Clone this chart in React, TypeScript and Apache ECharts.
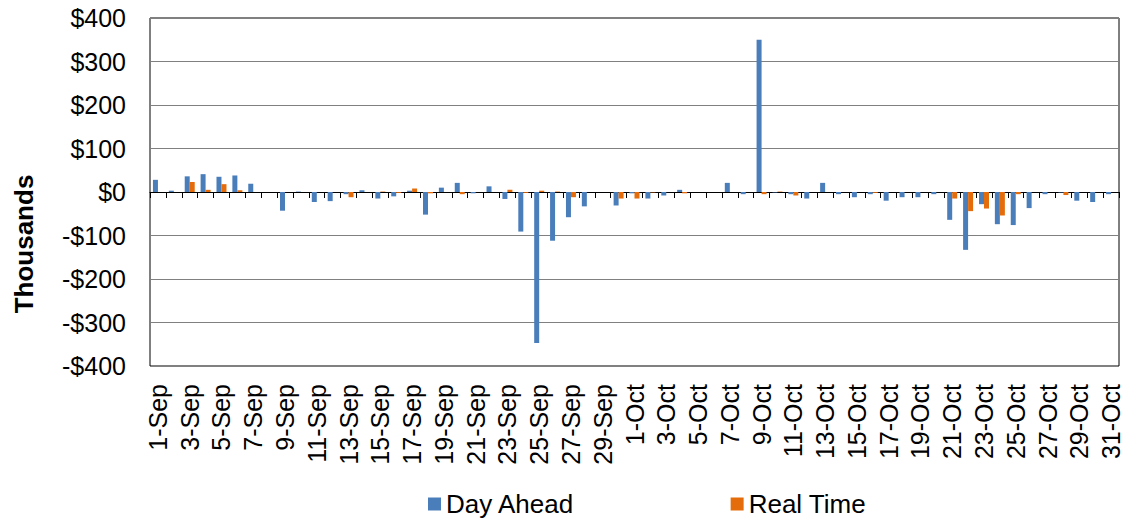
import React, { useEffect, useRef } from "react";
import * as echarts from "echarts";

const categories = [
  "1-Sep","2-Sep","3-Sep","4-Sep","5-Sep","6-Sep","7-Sep","8-Sep","9-Sep","10-Sep",
  "11-Sep","12-Sep","13-Sep","14-Sep","15-Sep","16-Sep","17-Sep","18-Sep","19-Sep","20-Sep",
  "21-Sep","22-Sep","23-Sep","24-Sep","25-Sep","26-Sep","27-Sep","28-Sep","29-Sep","30-Sep",
  "1-Oct","2-Oct","3-Oct","4-Oct","5-Oct","6-Oct","7-Oct","8-Oct","9-Oct","10-Oct",
  "11-Oct","12-Oct","13-Oct","14-Oct","15-Oct","16-Oct","17-Oct","18-Oct","19-Oct","20-Oct",
  "21-Oct","22-Oct","23-Oct","24-Oct","25-Oct","26-Oct","27-Oct","28-Oct","29-Oct","30-Oct",
  "31-Oct",
];

const dayAhead = [
  28, 3, 36, 41, 35, 38, 19, 0, -43, 1,
  -23, -21, -5, 4, -15, -10, 3, -52, 10, 21,
  -3, 13, -16, -91, -347, -112, -58, -33, 0, -31,
  -3, -15, -8, 5, 0, 0, 21, -5, 350, -1,
  -5, -15, 21, -5, -12, -5, -20, -12, -12, -5,
  -64, -133, -28, -74, -76, -37, -5, -1, -20, -23,
  -5,
];

const realTime = [
  0, 0, 23, 5, 18, 4, 0, 0, 0, 0,
  0, 0, -12, 0, 1, -2, 8, -3, 0, -5,
  0, 0, 5, -2, 3, 1, -12, 0, 0, -15,
  -15, -1, 0, -3, 0, 0, 0, 0, -5, 1,
  -8, 0, 0, 0, 0, -2, 0, 0, 0, 0,
  -15, -44, -38, -54, -5, 0, 0, -7, 0, 0,
  0,
];

const seriesNames = ["Day Ahead", "Real Time"];
const yAxisTitle = "Thousands";

const FONT = "'Liberation Sans', Arial, sans-serif";

export default function App() {
  const ref = useRef<HTMLDivElement>(null);
  useEffect(() => {
    if (!ref.current) return;
    const chart = echarts.init(ref.current, undefined, { renderer: "svg" });
    chart.setOption({
      animation: false,
      backgroundColor: "#fff",
      textStyle: { fontFamily: FONT },
      grid: {
        left: 150,
        right: 9,
        top: 18,
        bottom: 155,
        show: true,
        borderColor: "#000",
        borderWidth: 1,
        backgroundColor: "transparent",
      },
      legend: {
        data: seriesNames,
        left: 423,
        top: 484,
        itemWidth: 13,
        itemHeight: 13,
        itemGap: 156,
        icon: "path://M0 0H10V10H0Z",
        textStyle: { fontSize: 26, color: "#000", fontFamily: FONT, lineHeight: 30 },
      },
      graphic: [
        {
          type: "text",
          x: 24,
          y: 244,
          rotation: Math.PI / 2,
          style: {
            text: yAxisTitle,
            font: `bold 26px ${FONT}`,
            fill: "#000",
            textAlign: "center",
            textVerticalAlign: "middle",
          },
        },
      ],
      xAxis: [
        {
          type: "category",
          data: categories,
          position: "bottom",
          axisLine: { show: false, onZero: false },
          axisTick: { show: false },
          axisLabel: {
            interval: 1,
            rotate: 90,
            fontSize: 25,
            color: "#000",
            margin: 18,
            fontFamily: FONT,
          },
          splitLine: { show: false },
        },
        {
          type: "category",
          data: categories,
          position: "bottom",
          axisLine: { show: true, onZero: true, lineStyle: { color: "#000", width: 1.2 } },
          axisTick: { show: true, interval: 0, length: 6, lineStyle: { color: "#000", width: 1 } },
          axisLabel: { show: false },
          splitLine: { show: false },
        },
      ],
      yAxis: {
        type: "value",
        min: -400,
        max: 400,
        interval: 100,
        axisLine: { show: false },
        axisTick: { show: false },
        axisLabel: {
          fontSize: 25,
          color: "#000",
          margin: 24,
          fontFamily: FONT,
          formatter: (v: number) => (v < 0 ? "-$" + Math.abs(v) : "$" + v),
        },
        splitLine: { show: true, lineStyle: { color: "#808080", width: 1 } },
      },
      series: [
        {
          name: seriesNames[0],
          type: "bar",
          data: dayAhead,
          xAxisIndex: 0,
          barWidth: 5,
          barGap: "0%",
          itemStyle: { color: "#4A7EBB" },
        },
        {
          name: seriesNames[1],
          type: "bar",
          data: realTime,
          xAxisIndex: 0,
          barWidth: 5,
          barGap: "0%",
          itemStyle: { color: "#E46C0A" },
        },
      ],
    });
    return () => chart.dispose();
  }, []);
  return <div ref={ref} style={{ width: 1128, height: 521, position: "absolute", left: 0, top: 0 }} />;
}
